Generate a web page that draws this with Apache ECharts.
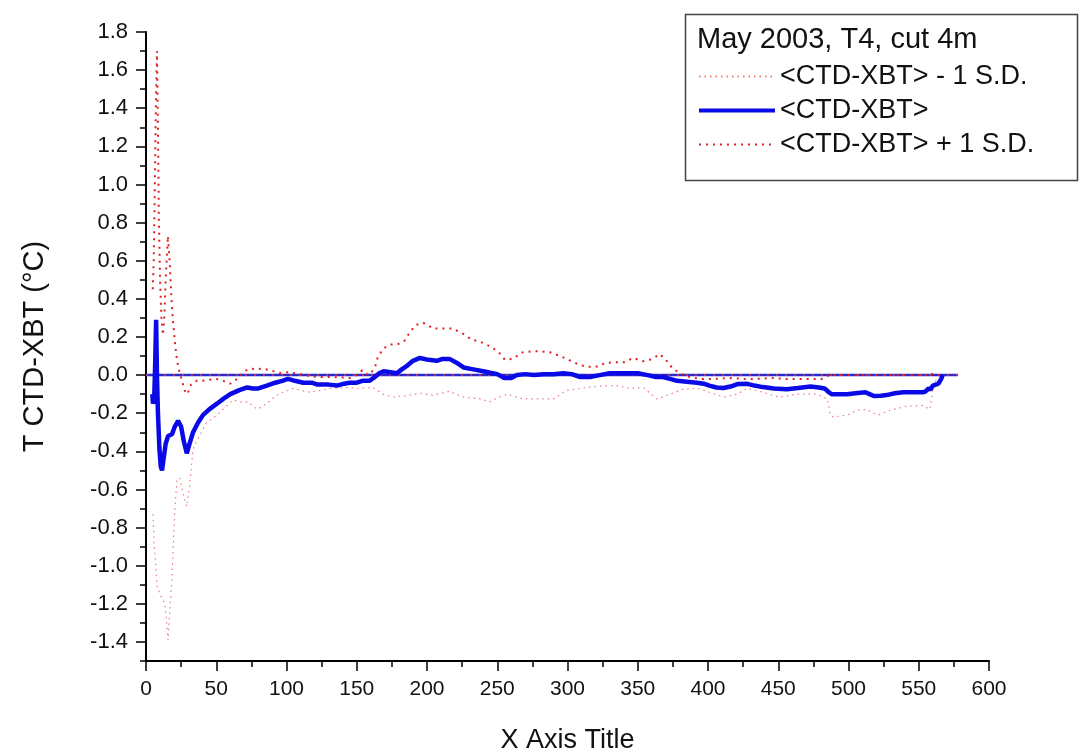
<!DOCTYPE html>
<html>
<head>
<meta charset="utf-8">
<script src="https://cdn.jsdelivr.net/npm/echarts@6/dist/echarts.min.js"></script>
<style>html,body{margin:0;padding:0;background:#fff;}#c{width:1084px;height:756px;}</style>
</head>
<body>
<div id="c"></div>
<script>
var legendTitle = 'May 2003, T4, cut 4m';
var seriesNames = ['<CTD-XBT> - 1 S.D.', '<CTD-XBT>', '<CTD-XBT> + 1 S.D.'];
var yTickLabels = [-1.4,-1.2,-1.0,-0.8,-0.6,-0.4,-0.2,0.0,0.2,0.4,0.6,0.8,1.0,1.2,1.4,1.6,1.8];

var meanX = [4.5,5,5.8,6.5,7.2,7.8,8.5,9.5,10.5,11.4,12.5,14,15.7,17,18.5,20.5,22.8,25,27,29,31,33.5,37,40.5,45,50.5,55,60,66,72,76,80,86,92,97,101,106,112,118,122,130,136,141,145,150,154,159,162,166,169,174,178.6,182,186,190,195,201,207,211,216,221,226,233,240,245,250,255,260,264,270,276,283,290,297,303,309,316,323,330,340,350,357,363,368,373,378,385,392,397,401,406,411,416,421,428,433,439,447,456,464,473,479,483,486,488,493,499,505,512,515,518,523,527,533,539,546,553,555,557,558.5,560,562,564,566,567];
var meanY = [-0.1,-0.15,-0.13,0.05,0.29,0.0,-0.2,-0.38,-0.48,-0.5,-0.44,-0.36,-0.32,-0.33,-0.31,-0.27,-0.24,-0.27,-0.35,-0.41,-0.36,-0.3,-0.25,-0.21,-0.18,-0.15,-0.125,-0.1,-0.08,-0.065,-0.07,-0.07,-0.055,-0.04,-0.03,-0.02,-0.03,-0.04,-0.04,-0.05,-0.05,-0.055,-0.045,-0.04,-0.04,-0.03,-0.03,-0.015,0.01,0.02,0.015,0.01,0.03,0.05,0.075,0.09,0.08,0.075,0.085,0.085,0.065,0.04,0.03,0.02,0.012,0.005,-0.015,-0.015,0.0,0.005,0.0,0.005,0.005,0.01,0.005,-0.01,-0.01,0.0,0.01,0.01,0.01,0.0,-0.01,-0.01,-0.02,-0.03,-0.035,-0.04,-0.045,-0.055,-0.065,-0.068,-0.06,-0.047,-0.046,-0.055,-0.063,-0.07,-0.074,-0.068,-0.06,-0.065,-0.07,-0.09,-0.1,-0.1,-0.1,-0.095,-0.09,-0.1,-0.11,-0.108,-0.105,-0.095,-0.09,-0.09,-0.09,-0.085,-0.07,-0.075,-0.055,-0.05,-0.045,-0.02,0.0];

var plusX = [4.8,5.5,6.3,7,7.8,8.5,9.2,10,11,12,13,14,15.6,16.8,18,19,20.5,22,24,26,28,29.5,32,36,40,45,50,55,60,65,70,74,78,83,90,96,101,110,116,122,131,138,145,150,154,158,161,163,165,169,174,181,184,186.5,191.5,196,199,204,211,218,225,232,238,245,250.5,255.5,261,267.6,274.6,280,287.5,294.6,300,307.5,313.8,321,326.7,333.8,341,346.6,353.7,360,365.8,370.8,375,381.5,387,395,405,415,425,435,445,455,465,475,481,484,488,500,520,540,555,557,558,560,563,566];
var plusY = [0.45,0.6,1.0,1.4,1.7,1.3,0.8,0.5,0.3,0.21,0.3,0.5,0.73,0.6,0.42,0.3,0.18,0.08,0.01,-0.04,-0.09,-0.1,-0.05,-0.03,-0.03,-0.025,-0.02,-0.03,-0.045,-0.02,0.02,0.035,0.03,0.035,0.022,0.01,0.015,0.005,-0.005,-0.01,-0.01,-0.012,-0.015,0.0,0.025,0.0,0.02,0.04,0.095,0.14,0.16,0.165,0.18,0.21,0.26,0.275,0.27,0.245,0.245,0.245,0.22,0.185,0.175,0.15,0.125,0.08,0.085,0.118,0.125,0.125,0.12,0.1,0.083,0.057,0.043,0.045,0.063,0.068,0.068,0.09,0.073,0.083,0.11,0.073,0.033,0.005,-0.01,-0.02,-0.02,-0.015,-0.02,-0.02,-0.015,-0.02,-0.02,-0.02,-0.02,-0.005,0.0,0.0,0.0,0.0,0.0,0.01,0.015,0.005,0.0,0.0];

var minusX = [5,5.8,7,7.8,10,12,13.5,14.7,15.7,16.8,18.5,19.5,20.6,22,24,26.3,29,31,33.5,36,43,50.5,57.6,62,67,72,76,79,86,92,97.5,104.6,110,116.7,124,131,143,152,161.6,168.7,175.8,185.8,195,204,216,225.6,237.7,245,250,257,268,280,290,299.6,311,323,335,344,354,363.5,373,382,392,401,411,421,428,439,451,463,477.6,485,487,489,499,506,513,521,529.5,541.6,553,558,559.5,560.5,563,566];
var minusY = [-0.73,-0.88,-1.0,-1.11,-1.15,-1.18,-1.2,-1.3,-1.39,-1.25,-1.06,-0.88,-0.7,-0.55,-0.54,-0.62,-0.69,-0.58,-0.39,-0.35,-0.25,-0.21,-0.16,-0.13,-0.14,-0.14,-0.16,-0.18,-0.15,-0.11,-0.09,-0.07,-0.08,-0.09,-0.08,-0.07,-0.065,-0.07,-0.065,-0.1,-0.115,-0.107,-0.095,-0.105,-0.085,-0.115,-0.125,-0.14,-0.12,-0.1,-0.125,-0.125,-0.125,-0.08,-0.068,-0.058,-0.055,-0.07,-0.065,-0.125,-0.1,-0.075,-0.068,-0.09,-0.115,-0.1,-0.068,-0.09,-0.116,-0.1,-0.1,-0.125,-0.21,-0.22,-0.21,-0.185,-0.18,-0.21,-0.185,-0.163,-0.16,-0.18,-0.1,-0.05,-0.02,0.0];

var zeroX = [0, 578];
var zeroY = [0, 0];

function zip(xs, ys) { return xs.map(function (x, i) { return [x, ys[i]]; }); }

var FONT = '"Liberation Sans", Arial, sans-serif';
var chart = echarts.init(document.getElementById('c'), null, {renderer: 'canvas'});
var option = {
  backgroundColor: '#ffffff',
  animation: false,
  textStyle: {fontFamily: FONT},
  grid: {left: 146, right: 95, top: 32, bottom: 95, containLabel: false, outerBoundsMode: 'none'},
  xAxis: {
    type: 'value', min: 0, max: 600, interval: 50,
    name: 'X Axis Title', nameLocation: 'middle', nameGap: 66,
    nameTextStyle: {fontSize: 27, color: '#111', fontFamily: FONT},
    axisLine: {show: true, onZero: false, lineStyle: {color: '#000', width: 2}},
    axisTick: {show: true, inside: false, length: 10, lineStyle: {color: '#000', width: 1.5}},
    minorTick: {show: true, splitNumber: 2, length: 6, lineStyle: {color: '#000', width: 1.5}},
    axisLabel: {fontSize: 21, color: '#111', margin: 18, fontFamily: FONT},
    splitLine: {show: false}, minorSplitLine: {show: false}
  },
  yAxis: [{
    type: 'value', min: -1.5, max: 1.8, position: 'left',
    name: 'T CTD-XBT (°C)', nameLocation: 'middle', nameGap: 97, nameRotate: 90,
    nameTextStyle: {fontSize: 29, color: '#111', fontFamily: FONT},
    axisLine: {show: true, onZero: false, lineStyle: {color: '#000', width: 2}},
    axisTick: {show: true, inside: false, length: 10, customValues: yTickLabels, lineStyle: {color: '#000', width: 1.5}},
    axisLabel: {fontSize: 22, color: '#111', margin: 18, fontFamily: FONT, customValues: yTickLabels,
      formatter: function (v) { return (Math.round(v * 10) / 10).toFixed(1); }},
    splitLine: {show: false}
  }, {
    type: 'value', min: -1.5, max: 1.8, interval: 0.1, position: 'left',
    axisLine: {show: false},
    axisTick: {show: true, inside: false, length: 6, lineStyle: {color: '#000', width: 1.5}},
    axisLabel: {show: false},
    splitLine: {show: false}
  }],
  legend: {
    data: [
      {name: seriesNames[0]},
      {name: seriesNames[1], lineStyle: {width: 4}},
      {name: seriesNames[2]}
    ],
    orient: 'vertical', left: 697, top: 63, padding: 0,
    itemWidth: 76, itemHeight: 14, itemGap: 7,
    itemStyle: {opacity: 0},
    textStyle: {fontSize: 27, color: '#111', fontFamily: FONT},
    selectedMode: false
  },
  graphic: [
    {type: 'rect', left: 683, top: 12, shape: {width: 392, height: 166}, style: {fill: 'none', stroke: '#444', lineWidth: 1.5}, z: 100},
    {type: 'text', left: 697, top: 25, style: {text: legendTitle, fill: '#111', font: '29px "Liberation Sans", Arial, sans-serif'}, z: 100}
  ],
  series: [
    {name: 'zero', type: 'line', data: zip(zeroX, zeroY), symbol: 'none', lineStyle: {color: '#2a2ad0', width: 2.5}, z: 1, silent: true},
    {name: 'zeroDots', type: 'line', data: zip(zeroX, zeroY), symbol: 'none', lineStyle: {color: '#d83a4a', width: 1.5, type: [2, 7]}, z: 1, silent: true},
    {name: seriesNames[0], type: 'line', data: zip(minusX, minusY), symbol: 'none', lineStyle: {color: '#f07a80', width: 1.2, type: [1.5, 4]}, itemStyle: {color: '#f07a80'}, z: 2},
    {name: seriesNames[2], type: 'line', data: zip(plusX, plusY), symbol: 'none', lineStyle: {color: '#e02020', width: 2, type: [2, 5]}, itemStyle: {color: '#e02020'}, z: 3},
    {name: seriesNames[1], type: 'line', data: zip(meanX, meanY), symbol: 'none', lineStyle: {color: '#0a0ae6', width: 4.5}, itemStyle: {color: '#0a0ae6'}, z: 4}
  ]
};
chart.setOption(option);
</script>
</body>
</html>
